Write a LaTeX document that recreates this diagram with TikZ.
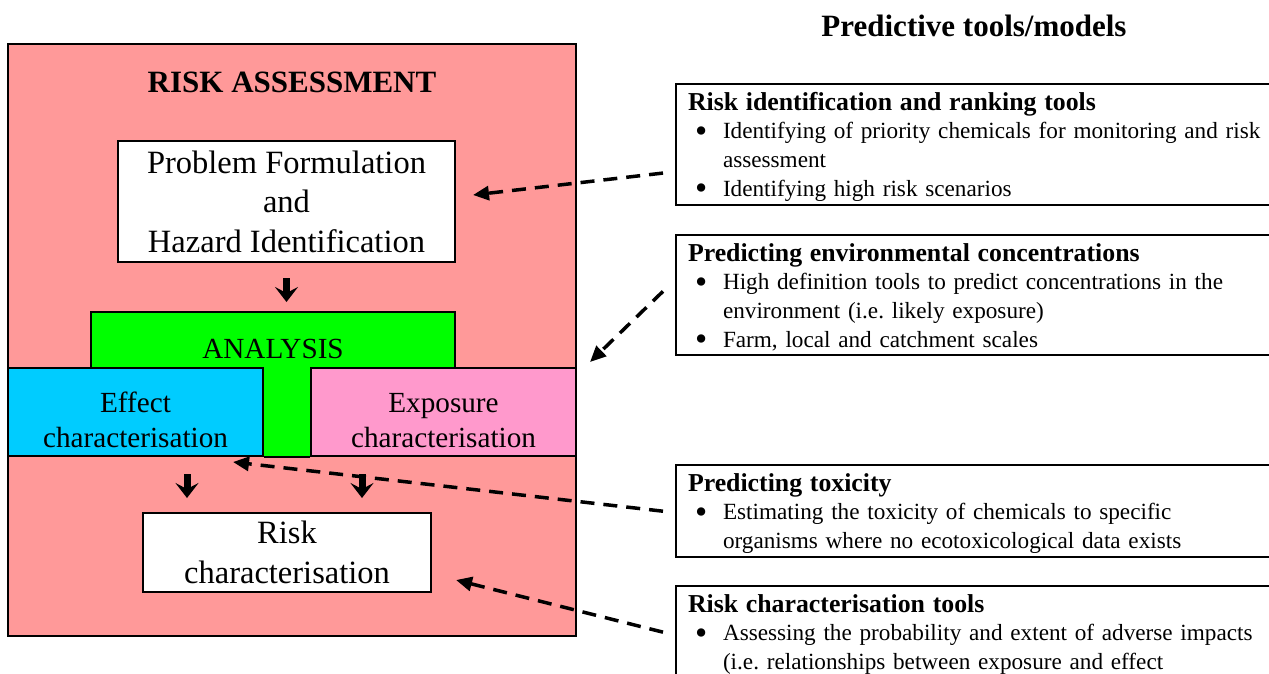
\documentclass[tikz,border=0pt]{standalone}
\usepackage{fontspec}
\setmainfont{Liberation Serif}
\usetikzlibrary{arrows.meta}
\setlength{\parindent}{0pt}
\frenchspacing

\definecolor{riskpink}{HTML}{FF9999}
\definecolor{analysisgreen}{HTML}{00FF00}
\definecolor{effectblue}{HTML}{00CCFF}
\definecolor{exposurepink}{HTML}{FF99CC}

\newcommand{\bigtext}{\fontsize{32.5}{39.5}\selectfont}
\newcommand{\midtext}{\fontsize{29.2}{35}\selectfont}
\newcommand{\headtext}{\fontsize{31}{36}\selectfont\bfseries}
\newcommand{\tooltext}{\fontsize{23.2}{28.7}\selectfont}
\newcommand{\lowstrut}{\rule{0pt}{37pt}}
\newcommand{\toolhead}[1]{\rule{0pt}{22pt}{\fontsize{25.8}{28.7}\selectfont\bfseries #1}}
\newcommand{\toolitem}{\par\hspace*{7pt}\makebox[28pt][l]{\raisebox{-3.5pt}{\scalebox{1.5}{\textbullet}}}}
\newcommand{\toolcont}{\par\hspace*{35pt}}

\begin{document}
\begin{tikzpicture}[x=1pt, y=-1pt,
        box/.style={draw, line width=2pt, inner sep=0pt, align=center},
        toolbox/.style={draw, line width=2pt, anchor=north west, text width=700pt,
                inner xsep=12pt, inner ysep=4pt, align=left, font=\tooltext},
        down/.style={line width=7pt, -{Stealth[length=15pt, width=23pt, inset=6pt]}},
        hint/.style={line width=3.5pt, dash pattern=on 14pt off 9pt,
                -{Triangle[length=16pt, width=14pt]}}]
        \useasboundingbox (0, 0) rectangle (1269, 673);
        \clip (0, 0) rectangle (1269, 673);

        % risk assessment frame
        \draw[line width=2pt, fill=riskpink] (8, 44) rectangle (576, 636);
        \node[font=\headtext] (title) at (292, 82) {RISK ASSESSMENT};

        \node[box, fill=white, minimum width=337pt, minimum height=121pt, font=\bigtext]
                (problem) at (286.5, 201.5) {Problem Formulation\\and\\Hazard Identification};

        % analysis: bar plus stem between the two characterisations
        \node[box, fill=analysisgreen, minimum width=364pt, minimum height=56pt,
                text height=36pt, text depth=0pt, font=\midtext] (analysis) at (273, 340) {ANALYSIS};
        \fill[analysisgreen] (263, 366) rectangle (311, 456);
        \node[box, fill=effectblue, minimum width=255pt, minimum height=88pt, font=\midtext]
                (effect) at (135.5, 412) {\lowstrut Effect\\characterisation};
        \node[box, fill=exposurepink, minimum width=265pt, minimum height=88pt, font=\midtext]
                (exposure) at (443.5, 412) {\lowstrut Exposure\\characterisation};
        \draw[line width=2pt] (effect.south east) -- (exposure.south west);

        \node[box, fill=white, minimum width=288pt, minimum height=79pt, font=\bigtext]
                (risk) at (287, 552.5) {Risk\\characterisation};

        \draw[down, shorten <=15pt, shorten >=9pt] (problem.south) -- (analysis.north -| problem.south);
        \draw[down, shorten <=17pt, shorten >=14pt] ([xshift=51.5pt]effect.south) -- ([xshift=-100pt]risk.north);
        \draw[down, shorten <=17pt, shorten >=14pt] ([xshift=-81.5pt]exposure.south) -- ([xshift=75pt]risk.north);

        % predictive tools
        \node[font=\headtext, anchor=base] (tools) at (974, 36) {Predictive tools/models};

        \node[toolbox] (ranking) at (675, 83) {\toolhead{Risk identification and ranking tools}
                \toolitem Identifying of priority chemicals for monitoring and risk
                \toolcont assessment
                \toolitem Identifying high risk scenarios};
        \node[toolbox] (concentration) at (675, 234) {\toolhead{Predicting environmental concentrations}
                \toolitem High definition tools to predict concentrations in the
                \toolcont environment (i.e. likely exposure)
                \toolitem Farm, local and catchment scales};
        \node[toolbox] (toxicity) at (675, 464) {\toolhead{Predicting toxicity}
                \toolitem Estimating the toxicity of chemicals to specific
                \toolcont organisms where no ecotoxicological data exists};
        \node[toolbox] (characterisation) at (675, 585) {\toolhead{Risk characterisation tools}
                \toolitem Assessing the probability and extent of adverse impacts
                \toolcont (i.e. relationships between exposure and effect};

        \draw[hint] ([xshift=-12pt, yshift=-28.5pt]ranking.west) -- ([xshift=17pt, yshift=6.5pt]problem.east);
        \draw[hint] ([xshift=-12pt, yshift=3.5pt]concentration.west) -- ([xshift=13pt, yshift=5pt]exposure.north east);
        \draw[hint] ([xshift=-12pt]toxicity.west) -- ([xshift=-31pt, yshift=-5pt]effect.south east);
        \draw[hint] ([xshift=-12pt]characterisation.west) -- ([xshift=24pt, yshift=-27.5pt]risk.east);
    \end{tikzpicture}
\end{document}
